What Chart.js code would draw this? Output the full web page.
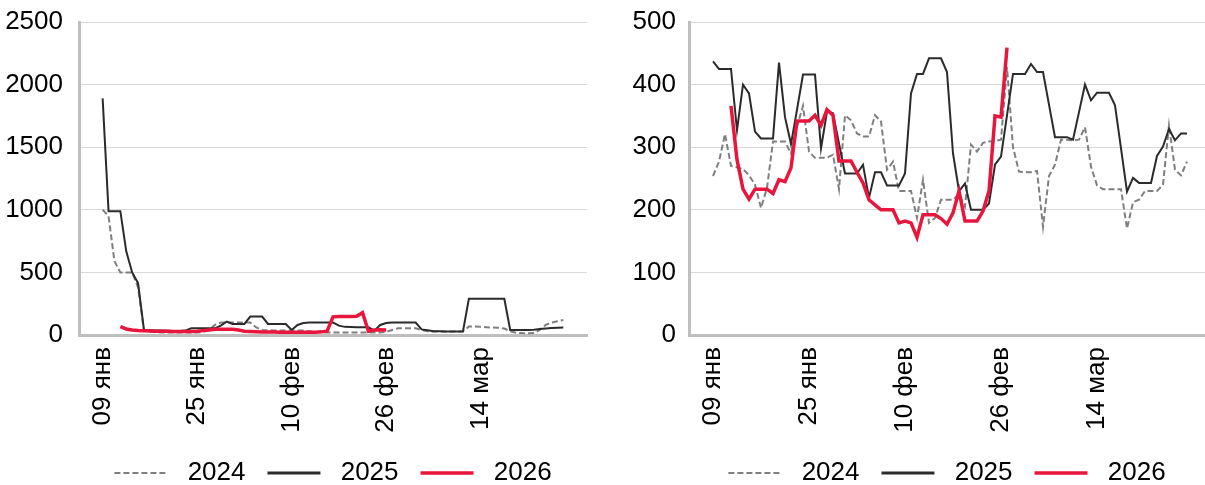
<!DOCTYPE html>
<html>
<head>
<meta charset="utf-8">
<script src="https://cdn.jsdelivr.net/npm/chart.js@4.4.1/dist/chart.umd.min.js"></script>
<style>
  html, body { margin: 0; padding: 0; background: #ffffff; }
  #wrap { position: relative; width: 1205px; height: 485px; overflow: hidden; }
  #c1 { position: absolute; left: 0; top: 0; }
  #c2 { position: absolute; left: 600px; top: 0; }
</style>
</head>
<body>
<div id="wrap">
  <canvas id="c1" width="600" height="485"></canvas>
  <canvas id="c2" width="605" height="485"></canvas>
</div>
<script>
// ---- categories (daily, 05 янв .. 01 апр) ----
const categories = [
  '05 янв','06 янв','07 янв','08 янв','09 янв','10 янв','11 янв','12 янв','13 янв','14 янв',
  '15 янв','16 янв','17 янв','18 янв','19 янв','20 янв','21 янв','22 янв','23 янв','24 янв',
  '25 янв','26 янв','27 янв','28 янв','29 янв','30 янв','31 янв',
  '01 фев','02 фев','03 фев','04 фев','05 фев','06 фев','07 фев','08 фев','09 фев','10 фев',
  '11 фев','12 фев','13 фев','14 фев','15 фев','16 фев','17 фев','18 фев','19 фев','20 фев',
  '21 фев','22 фев','23 фев','24 фев','25 фев','26 фев','27 фев','28 фев',
  '01 мар','02 мар','03 мар','04 мар','05 мар','06 мар','07 мар','08 мар','09 мар','10 мар',
  '11 мар','12 мар','13 мар','14 мар','15 мар','16 мар','17 мар','18 мар','19 мар','20 мар',
  '21 мар','22 мар','23 мар','24 мар','25 мар','26 мар','27 мар','28 мар','29 мар','30 мар',
  '31 мар','01 апр'
];
const tickLabels = ['09 янв','25 янв','10 фев','26 фев','14 мар'];
const seriesNames = ['2024','2025','2026'];

// ---- left chart values, from 09 янв ----
const left2024 = [
  1000, 950, 590, 500, 500, 500, 380, 35, 25, 22,
  20, 20, 20, 20, 20, 20, 20, 25, 40, 80,
  99, 99, 99, 99, 99, 99, 60, 40, 38, 36,
  35, 35, 35, 35, 35, 30, 25, 22, 19, 19,
  19, 19, 19, 19, 19, 19, 19, 19, 25, 40,
  53, 53, 53, 53, 40, 30, 27, 27, 27, 27,
  27, 30, 67, 67, 65, 62, 60, 58, 52, 30,
  18, 15, 14, 15, 40, 80, 100, 110, 120
];
const left2025 = [
  1890, 989, 989, 989, 668, 500, 414, 40, 38, 36,
  35, 33, 32, 32, 35, 53, 53, 53, 53, 53,
  75, 107, 88, 88, 88, 147, 147, 147, 88, 88,
  88, 88, 40, 80, 95, 99, 99, 99, 99, 99,
  75, 65, 63, 62, 62, 61, 35, 80, 95, 99,
  99, 99, 99, 99, 45, 38, 30, 29, 28, 28,
  27, 27, 289, 289, 289, 289, 289, 289, 289, 40,
  40, 40, 40, 42, 48, 52, 55, 58, 59
];
const left2026 = [
  null, null, null, 67, 48, 40, 36, 34, 32, 30,
  30, 29, 28, 28, 28, 28, 30, 35, 40, 45,
  45, 45, 45, 40, 30, 27, 25, 24, 23, 23,
  22, 22, 22, 22, 22, 22, 22, 25, 30, 145,
  147, 148, 148, 150, 178, 30, 40, 42, 40
];

// ---- right chart values, from 09 янв ----
const right2024 = [
  254, 277, 321, 270, 268, 265, 255, 240, 203, 235,
  309, 309, 309, 290, 333, 366, 293, 283, 283, 283,
  288, 233, 351, 343, 322, 317, 317, 351, 341, 264,
  277, 230, 230, 230, 187, 248, 179, 187, 216, 216,
  216, 225, 205, 304, 293, 307, 309, 310, 312, 428,
  300, 261, 260, 260, 262, 173, 254, 272, 312, 312,
  311, 312, 332, 269, 239, 233, 233, 233, 233, 170,
  212, 216, 230, 230, 230, 240, 335, 264, 255, 277
];
const right2025 = [
  437, 425, 425, 425, 327, 400, 386, 325, 314, 314,
  314, 435, 348, 305, 360, 416, 416, 416, 298, 357,
  354, 306, 258, 258, 258, 272, 219, 260, 260, 239,
  239, 239, 258, 386, 417, 417, 442, 442, 442, 420,
  290, 230, 242, 200, 200, 200, 210, 272, 285, 351,
  417, 417, 417, 433, 420, 420, 368, 316, 316, 316,
  312, 356, 400, 375, 387, 387, 387, 367, 298, 229,
  251, 243, 243, 243, 286, 301, 329, 311, 322, 322
];
const right2026 = [
  null, null, null, 366, 280, 233, 217, 233, 233, 233,
  226, 248, 245, 267, 342, 342, 342, 351, 335, 360,
  351, 278, 278, 278, 260, 243, 216, 208, 200, 200,
  200, 179, 182, 179, 156, 192, 192, 192, 186, 177,
  195, 230, 182, 182, 182, 198, 230, 350, 348, 459
];

const leadDays = categories.indexOf('09 янв');
function pad(arr) { return new Array(leadDays).fill(null).concat(arr); }

const FONT = "'Liberation Sans', Arial, sans-serif";
const COLORS = { '2024': '#7f7f7f', '2025': '#2b2b2b', '2026': '#e8163c' };
const LEGEND_WIDTHS = { '2024': 2, '2025': 3, '2026': 3.5 };

function makeDatasets(a, b, c) {
  return [
    { label: seriesNames[0], data: pad(a), borderColor: COLORS['2024'], backgroundColor: COLORS['2024'],
      borderWidth: 2, borderDash: [6, 3], pointRadius: 0, tension: 0, order: 3 },
    { label: seriesNames[1], data: pad(b), borderColor: COLORS['2025'], backgroundColor: COLORS['2025'],
      borderWidth: 2, pointRadius: 0, tension: 0, order: 2 },
    { label: seriesNames[2], data: pad(c), borderColor: COLORS['2026'], backgroundColor: COLORS['2026'],
      borderWidth: 3.5, pointRadius: 0, tension: 0, order: 1 }
  ];
}

function makeConfig(datasets, yMax, yStep, yWidth, yPad, padRight) {
  return {
    type: 'line',
    data: { labels: categories, datasets: datasets },
    options: {
      responsive: false,
      animation: false,
      devicePixelRatio: 1,
      layout: { padding: { top: 22, right: padRight, left: 0, bottom: 0 } },
      plugins: {
        tooltip: { enabled: false },
        legend: {
          position: 'bottom',
          fullSize: false,
          maxHeight: 47,
          labels: {
            usePointStyle: true,
            pointStyleWidth: 53,
            padding: 22,
            color: '#000',
            font: { family: FONT, size: 26 },
            generateLabels: function(chart) {
              return chart.data.datasets.map(function(ds, i) {
                return {
                  text: ' ' + ds.label,
                  fillStyle: ds.borderColor,
                  strokeStyle: ds.borderColor,
                  lineWidth: LEGEND_WIDTHS[ds.label],
                  lineDash: ds.borderDash || [],
                  lineCap: 'butt',
                  pointStyle: 'line',
                  fontColor: '#000',
                  hidden: false,
                  datasetIndex: i
                };
              });
            }
          }
        }
      },
      scales: {
        x: {
          type: 'category',
          offset: false,
          grid: { display: false, drawTicks: false },
          border: { display: true, color: '#bfbfbf', width: 3 },
          ticks: {
            autoSkip: false,
            minRotation: 90,
            maxRotation: 90,
            padding: 12,
            color: '#000',
            font: { family: FONT, size: 26 },
            callback: function(val, idx) {
              const lab = categories[idx];
              return tickLabels.indexOf(lab) >= 0 ? lab : '';
            }
          },
          afterFit: function(scale) {
            scale.height = 103;
            scale.paddingLeft = 0;
            scale.paddingRight = 0;
          }
        },
        y: {
          min: 0,
          max: yMax,
          grid: { color: '#d9d9d9', lineWidth: 1, drawTicks: false },
          border: { display: true, color: '#bfbfbf', width: 3 },
          ticks: {
            stepSize: yStep,
            padding: yPad,
            color: '#000',
            font: { family: FONT, size: 26 },
            callback: function(v) { return String(v); }
          },
          afterFit: function(scale) {
            scale.width = yWidth;
            scale.paddingTop = 0;
            scale.paddingBottom = 0;
          }
        }
      }
    }
  };
}

new Chart(document.getElementById('c1'),
  makeConfig(makeDatasets(left2024, left2025, left2026), 2500, 500, 79, 16, 13));
new Chart(document.getElementById('c2'),
  makeConfig(makeDatasets(right2024, right2025, right2026), 500, 100, 89, 13, 0));
</script>
</body>
</html>
